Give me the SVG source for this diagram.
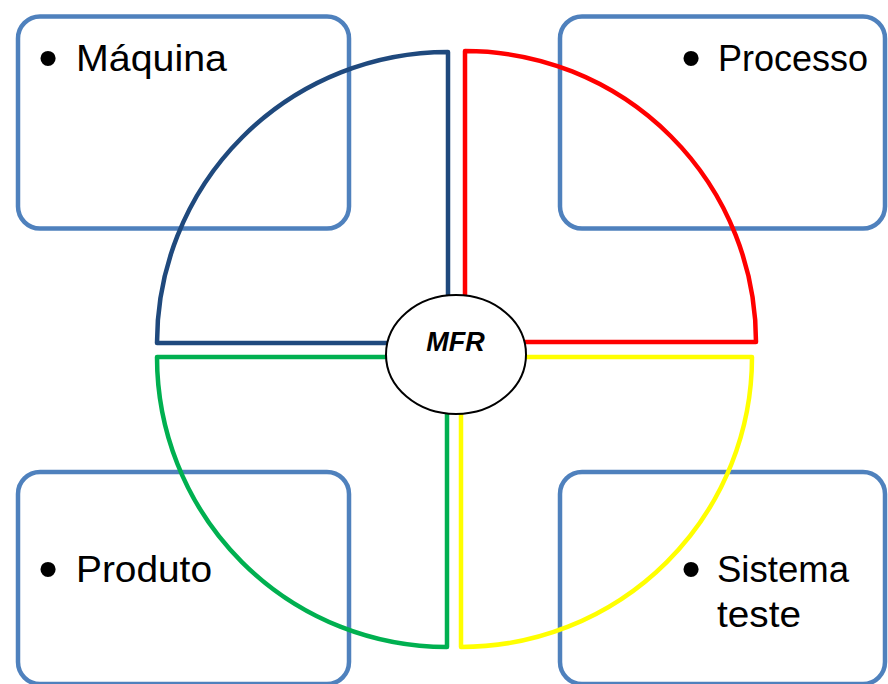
<svg xmlns="http://www.w3.org/2000/svg" width="888" height="684" viewBox="0 0 888 684">
<style>
.box{fill:#fff;stroke:#4F81BD;stroke-width:4.5}
.q{fill:none;stroke-width:4.5;stroke-linejoin:round}
.lbl{font-family:"Liberation Sans",Arial,sans-serif;font-size:37px;fill:#000}
.bul{font-family:"Liberation Sans",Arial,sans-serif;font-size:56px;fill:#000;text-anchor:middle}
.mfr{font-family:"Liberation Sans",Arial,sans-serif;font-size:27px;font-weight:bold;font-style:italic;text-anchor:middle;fill:#000}
</style>
<rect width="888" height="684" fill="#fff"/>
<g id="box-maquina">
<rect class="box" x="18" y="16.5" width="331" height="212" rx="22"/>
<text class="bul" x="48" y="77">•</text>
<text class="lbl" x="76" y="71" textLength="151" lengthAdjust="spacingAndGlyphs">Máquina</text>
</g>
<g id="box-processo">
<rect class="box" x="560" y="16.5" width="325" height="212" rx="22"/>
<text class="bul" x="691" y="77">•</text>
<text class="lbl" x="718" y="71" textLength="150" lengthAdjust="spacingAndGlyphs">Processo</text>
</g>
<g id="box-produto">
<rect class="box" x="18" y="472" width="331" height="212" rx="22"/>
<text class="bul" x="48" y="588">•</text>
<text class="lbl" x="76" y="582" textLength="136" lengthAdjust="spacingAndGlyphs">Produto</text>
</g>
<g id="box-sistema">
<rect class="box" x="560" y="472" width="325" height="212" rx="22"/>
<text class="bul" x="691" y="588">•</text>
<text class="lbl" x="717" y="582" textLength="132" lengthAdjust="spacingAndGlyphs">Sistema</text>
<text class="lbl" x="717" y="627" textLength="84" lengthAdjust="spacingAndGlyphs">teste</text>
</g>
<g id="quadrants">
<path id="q-blue" class="q" stroke="#1F497D" d="M448,52 L448,343 L157,343 A291,291 0 0 1 448,52 Z"/>
<path id="q-red" class="q" stroke="#FF0000" d="M465,51 L465,342 L756,342 A291,291 0 0 0 465,51 Z"/>
<path id="q-green" class="q" stroke="#00B050" d="M447,647 L447,357 L157,357 A290,290 0 0 0 447,647 Z"/>
<path id="q-yellow" class="q" stroke="#FFFF00" d="M461,647 L461,357 L752,357 A291,290 0 0 1 461,647 Z"/>
</g>
<g id="mfr">
<ellipse cx="456" cy="354.5" rx="70" ry="59.5" fill="#fff" stroke="#000" stroke-width="2"/>
<text class="mfr" x="455.5" y="351">MFR</text>
</g>
</svg>
